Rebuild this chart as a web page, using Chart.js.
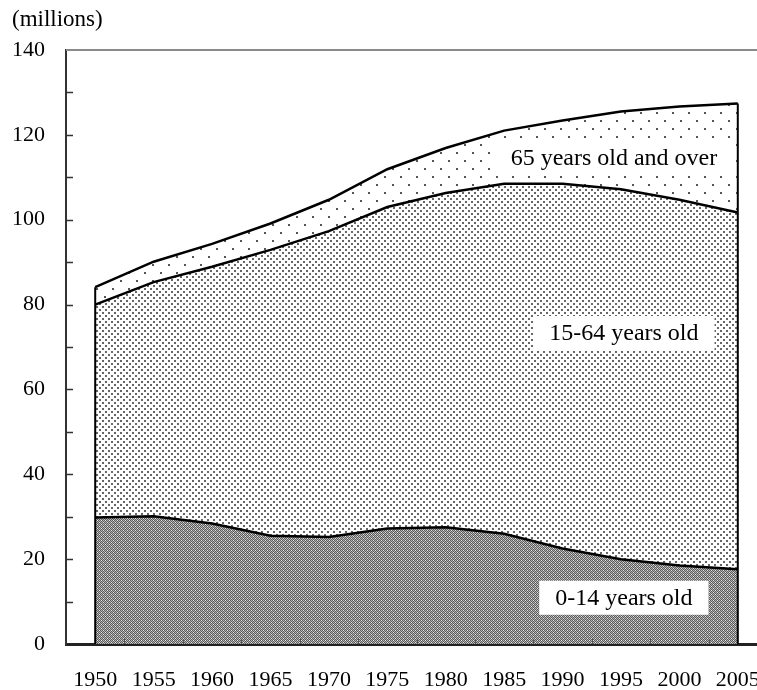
<!DOCTYPE html>
<html>
<head>
<meta charset="utf-8">
<script src="https://cdn.jsdelivr.net/npm/chart.js@4.4.1/dist/chart.umd.min.js"></script>
<style>
  html, body { margin: 0; padding: 0; background: #fff; overflow: hidden; }
  #wrap { width: 800px; height: 690px; }
</style>
</head>
<body>
<div id="wrap"><canvas id="popChart" width="800" height="690"></canvas></div>
<script>
// data (millions)
const years = ["1950", "1955", "1960", "1965", "1970", "1975", "1980", "1985", "1990", "1995", "2000", "2005"];
const age0to14 = [29.8, 30.1, 28.4, 25.5, 25.2, 27.2, 27.5, 26.0, 22.5, 20.0, 18.5, 17.6];
const age15to64 = [50.2, 55.2, 60.5, 67.4, 72.1, 75.8, 78.8, 82.5, 86.0, 87.2, 86.2, 84.1];
const age65plus = [4.1, 4.8, 5.4, 6.2, 7.4, 8.9, 10.6, 12.5, 14.9, 18.3, 22.0, 25.7];
const yTicks = [0, 20, 40, 60, 80, 100, 120, 140];

const FONT = "'Liberation Serif', 'Times New Roman', serif";

// area labels, placed in data units (category index, value)
const areaLabels = [
  { text: "65 years old and over", x: 8.88, y: 114.5 },
  { text: "15-64 years old", x: 9.05, y: 73.3 },
  { text: "0-14 years old", x: 9.05, y: 10.9 }
];

const canvas = document.getElementById("popChart");
const ctx = canvas.getContext("2d");

/* ---------- hatch patterns ---------- */
function makePattern(size, draw) {
  const c = document.createElement("canvas");
  c.width = size;
  c.height = size;
  const g = c.getContext("2d");
  g.fillStyle = "#fff";
  g.fillRect(0, 0, size, size);
  draw(g);
  return ctx.createPattern(c, "repeat");
}

// 0-14: dense dark checker
const patDark = makePattern(4, (g) => {
  for (let i = 0; i < 4; i++) {
    for (let j = 0; j < 4; j++) {
      g.fillStyle = (i + j) % 2 === 0 ? "#5a5a5a" : "#b4b4b4";
      g.fillRect(i, j, 1, 1);
    }
  }
  g.fillStyle = "#e8e8e8";
  g.fillRect(1, 0, 1, 1);
  g.fillRect(3, 2, 1, 1);
});

// 15-64: fine dots
const patMid = makePattern(6, (g) => {
  g.fillStyle = "#666";
  g.fillRect(0, 0, 2, 2);
  g.fillRect(3, 3, 2, 2);
});

// 65+: sparse dots
const patLight = makePattern(16, (g) => {
  g.fillStyle = "#555";
  g.fillRect(0, 0, 2, 2);
  g.fillRect(8, 8, 2, 2);
});

/* ---------- extras: frame, inner ticks, edges, labels ---------- */
const extrasPlugin = {
  id: "extras",
  afterDatasetsDraw(chart) {
    const { ctx, chartArea } = chart;
    const xs = chart.scales.x;
    const ys = chart.scales.y;
    const last = years.length - 1;

    ctx.save();

    // vertical edges at first and last year
    ctx.strokeStyle = "#000";
    ctx.lineWidth = 2;
    [0, last].forEach((i) => {
      const total = age0to14[i] + age15to64[i] + age65plus[i];
      const px = xs.getPixelForValue(i);
      ctx.beginPath();
      ctx.moveTo(px, ys.getPixelForValue(0));
      ctx.lineTo(px, ys.getPixelForValue(total));
      ctx.stroke();
    });

    // top frame line
    ctx.strokeStyle = "#8a8a8a";
    ctx.lineWidth = 2;
    ctx.beginPath();
    ctx.moveTo(chartArea.left, chartArea.top);
    ctx.lineTo(chart.width, chartArea.top);
    ctx.stroke();

    // inner y ticks every 10
    ctx.strokeStyle = "#333";
    ctx.lineWidth = 1.5;
    for (let v = 10; v < 140; v += 10) {
      const py = Math.round(ys.getPixelForValue(v)) + 0.5;
      ctx.beginPath();
      ctx.moveTo(chartArea.left, py);
      ctx.lineTo(chartArea.left + 7, py);
      ctx.stroke();
    }

    // inner x ticks between categories
    ctx.strokeStyle = "#555";
    ctx.lineWidth = 1;
    for (let i = 0; i < last; i++) {
      const px = Math.round((xs.getPixelForValue(i) + xs.getPixelForValue(i + 1)) / 2) + 0.5;
      ctx.beginPath();
      ctx.moveTo(px, chartArea.bottom);
      ctx.lineTo(px, chartArea.bottom - 5);
      ctx.stroke();
    }

    // area labels on white boxes
    ctx.font = "24px " + FONT;
    ctx.textAlign = "center";
    ctx.textBaseline = "middle";
    areaLabels.forEach((lab) => {
      const cx = xs.getPixelForValue(lab.x);
      const cy = ys.getPixelForValue(lab.y);
      const w = ctx.measureText(lab.text).width + 32;
      const h = 34;
      ctx.fillStyle = "#fff";
      ctx.fillRect(cx - w / 2, cy - h / 2, w, h);
      ctx.fillStyle = "#000";
      ctx.fillText(lab.text, cx, cy + 1);
    });

    // unit label
    ctx.font = "23px " + FONT;
    ctx.textAlign = "left";
    ctx.fillText("(millions)", 12, 20);

    ctx.restore();
  }
};

/* ---------- chart ---------- */
const lineStyle = {
  borderColor: "#000",
  borderWidth: 2.5,
  pointRadius: 0,
  tension: 0
};

new Chart(ctx, {
  type: "line",
  data: {
    labels: years,
    datasets: [
      { label: "0-14 years old", data: age0to14, fill: "origin", backgroundColor: patDark, ...lineStyle },
      { label: "15-64 years old", data: age15to64, fill: "-1", backgroundColor: patMid, ...lineStyle },
      { label: "65 years old and over", data: age65plus, fill: "-1", backgroundColor: patLight, ...lineStyle }
    ]
  },
  options: {
    responsive: false,
    animation: false,
    layout: { padding: { top: 50, right: 33, bottom: 0, left: 0 } },
    plugins: {
      legend: { display: false },
      tooltip: { enabled: false },
      filler: { drawTime: "beforeDatasetsDraw" }
    },
    scales: {
      x: {
        type: "category",
        offset: true,
        grid: { drawOnChartArea: false, drawTicks: false },
        border: { color: "#222", width: 3 },
        ticks: {
          color: "#000",
          font: { family: FONT, size: 22 },
          padding: 23,
          maxRotation: 0,
          autoSkip: false
        },
        afterFit: (scale) => { scale.height = 46; }
      },
      y: {
        stacked: true,
        min: 0,
        max: 140,
        grid: { drawOnChartArea: false, drawTicks: false },
        border: { color: "#333", width: 2 },
        afterBuildTicks: (scale) => { scale.ticks = yTicks.map((v) => ({ value: v })); },
        ticks: {
          color: "#000",
          font: { family: FONT, size: 22 },
          padding: 21
        },
        afterFit: (scale) => { scale.width = 66; }
      }
    }
  },
  plugins: [extrasPlugin]
});
</script>
</body>
</html>
